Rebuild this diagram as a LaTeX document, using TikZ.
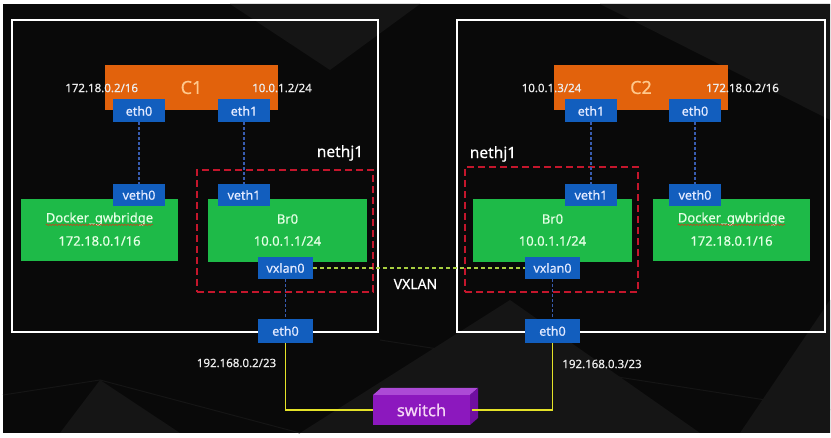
\documentclass[tikz,border=0pt]{standalone}
\usepackage{fontspec}
\setmainfont{Noto Sans}[FakeBold=0.5]
\usetikzlibrary{decorations.pathmorphing}

\definecolor{bgdark}{RGB}{9,9,9}
\definecolor{bgtri}{RGB}{21,21,21}
\definecolor{corange}{RGB}{226,98,12}
\definecolor{ifblue}{RGB}{18,94,190}
\definecolor{brgreen}{RGB}{30,186,72}
\definecolor{netred}{RGB}{196,22,44}
\definecolor{vethline}{RGB}{56,92,176}
\definecolor{tunline}{RGB}{168,206,64}
\definecolor{wire}{RGB}{228,226,40}
\definecolor{swfront}{RGB}{140,24,190}
\definecolor{swtop}{RGB}{172,74,214}
\definecolor{swside}{RGB}{112,14,160}

\begin{document}
\begin{tikzpicture}[x=1pt,y=-1pt,
    every node/.style={inner sep=0pt,outer sep=0pt},
    hostbox/.style={draw=white,line width=1.8pt},
    netbox/.style={draw=netred,line width=1.8pt,dash pattern=on 7pt off 4pt},
    contbox/.style={fill=corange,text={rgb,255:red,255;green,200;blue,140},
      font=\fontsize{18}{20}\selectfont},
    ifbox/.style={fill=ifblue,text={rgb,255:red,225;green,233;blue,255},
      font=\fontsize{12.5}{14}\selectfont\bfseries},
    brbox/.style={fill=brgreen},
    brtext/.style={text={rgb,255:red,228;green,255;blue,228},font=\fontsize{13}{15}\selectfont\bfseries},
    iplabel/.style={text={rgb,255:red,236;green,236;blue,236},font=\fontsize{11.5}{13}\selectfont\bfseries},
    bigtext/.style={text=white,font=\fontsize{15.5}{17}\selectfont\bfseries},
    spell/.style={draw={rgb,255:red,196;green,70;blue,30},line width=0.6pt,
      decorate,decoration={snake,amplitude=0.7pt,segment length=3pt}}]

    % background
    \fill[white] (0,0) rectangle (831,438);
    \fill[bgdark] (3,4) rectangle (830,433);
    \fill[bgtri] (300,433) -- (510,300) -- (700,433) -- cycle;
    \fill[bgtri] (740,433) -- (830,300) -- (830,433) -- cycle;
    \fill[bgtri] (60,433) -- (100,380) -- (180,433) -- cycle;
    \fill[bgtri] (230,4) -- (420,4) -- (330,70) -- cycle;
    \fill[bgtri] (600,4) -- (830,4) -- (830,120) -- cycle;
    \draw[bgtri,line width=1pt] (3,395) -- (100,380) -- (300,433);
    \draw[bgtri,line width=1pt] (380,340) -- (830,410);

    % hosts
    \node[hostbox,minimum width=366pt,minimum height=312pt] (hostA) at (195,176) {};
    \node[hostbox,minimum width=368pt,minimum height=312pt] (hostB) at (641,176) {};

    % overlay network nethj1
    \node[netbox,minimum width=176pt,minimum height=122pt] (netA) at (285,231) {};
    \node[netbox,minimum width=173pt,minimum height=125pt] (netB) at (551.5,229.5) {};
    \node[bigtext] (netAname) at (340,153) {nethj1};
    \node[bigtext] (netBname) at (493,154) {nethj1};

    % bridges
    \node[brbox,minimum width=157pt,minimum height=62pt] (gwA) at (99.5,230) {};
    \node[brbox,minimum width=159pt,minimum height=63pt] (brA) at (287.5,230.5) {};
    \node[brbox,minimum width=159pt,minimum height=63pt] (brB) at (552.5,230.5) {};
    \node[brbox,minimum width=157pt,minimum height=62pt] (gwB) at (731.5,230) {};

    \node[brtext] (gwAname) at (99.5,219) {Docker\_gwbridge};
    \node[brtext] (gwAip) at (99.5,241) {172.18.0.1/16};
    \node[brtext] (brAname) at (287.5,219) {Br0};
    \node[brtext] (brAip) at (287.5,241) {10.0.1.1/24};
    \node[brtext] (brBname) at (552.5,219) {Br0};
    \node[brtext] (brBip) at (552.5,241) {10.0.1.1/24};
    \node[brtext] (gwBname) at (731.5,219) {Docker\_gwbridge};
    \node[brtext] (gwBip) at (731.5,241) {172.18.0.1/16};
    \draw[spell] ([yshift=-2.5pt]gwAname.base west) -- ([yshift=-2.5pt]gwAname.base east);
    \draw[spell] ([yshift=-2.5pt]gwBname.base west) -- ([yshift=-2.5pt]gwBname.base east);

    % containers
    \node[contbox,minimum width=173pt,minimum height=45pt] (C1) at (191.5,87.5) {C1};
    \node[contbox,minimum width=174pt,minimum height=45pt] (C2) at (641,87.5) {C2};
    \node[iplabel,anchor=east] (c1ip0) at (138,88) {172.18.0.2/16};
    \node[iplabel] (c1ip1) at (282,88) {10.0.1.2/24};
    \node[iplabel] (c2ip1) at (551.5,88) {10.0.1.3/24};
    \node[iplabel] (c2ip0) at (742.5,88) {172.18.0.2/16};

    % interfaces
    \node[ifbox,minimum width=52pt,minimum height=23pt] (c1eth0) at (139,111) {eth0};
    \node[ifbox,minimum width=52pt,minimum height=23pt] (c1eth1) at (244,111) {eth1};
    \node[ifbox,minimum width=52pt,minimum height=22pt] (vethA0) at (139,195) {veth0};
    \node[ifbox,minimum width=52pt,minimum height=22pt] (vethA1) at (244,195) {veth1};
    \node[ifbox,minimum width=52pt,minimum height=23pt] (c2eth1) at (591,111) {eth1};
    \node[ifbox,minimum width=52pt,minimum height=23pt] (c2eth0) at (695,111) {eth0};
    \node[ifbox,minimum width=52pt,minimum height=22pt] (vethB1) at (591,195) {veth1};
    \node[ifbox,minimum width=52pt,minimum height=22pt] (vethB0) at (695,195) {veth0};
    \node[ifbox,minimum width=55pt,minimum height=22pt] (vxA) at (285.5,268) {vxlan0};
    \node[ifbox,minimum width=55pt,minimum height=22pt] (vxB) at (552.5,268) {vxlan0};
    \node[ifbox,minimum width=55pt,minimum height=24pt] (ethA) at (285.5,331) {eth0};
    \node[ifbox,minimum width=55pt,minimum height=24pt] (ethB) at (552.5,331) {eth0};

    \node[bigtext,font=\fontsize{14}{16}\selectfont\bfseries] (vxlan) at (415.5,284) {VXLAN};
    \node[iplabel] (ipA) at (236.5,363) {192.168.0.2/23};
    \node[iplabel] (ipB) at (602,364) {192.168.0.3/23};

    % switch
    \node[fill=swfront,minimum width=97pt,minimum height=30pt,
      text={rgb,255:red,246;green,214;blue,246},font=\fontsize{16.5}{18}\selectfont\bfseries] (sw) at (421.5,410) {switch};
    \fill[swtop] (sw.north west) -- ++(8,-7) -- ++(97,0) -- (sw.north east) -- cycle;
    \fill[swside] (sw.north east) -- ++(8,-7) -- ++(0,30) -- (sw.south east) -- cycle;

    % links
    \path[-] (c1eth0) edge[draw=vethline,line width=1.3pt,dash pattern=on 3pt off 2pt] (vethA0);
    \path[-] (c1eth1) edge[draw=vethline,line width=1.3pt,dash pattern=on 3pt off 2pt] (vethA1);
    \path[-] (c2eth1) edge[draw=vethline,line width=1.3pt,dash pattern=on 3pt off 2pt] (vethB1);
    \path[-] (c2eth0) edge[draw=vethline,line width=1.3pt,dash pattern=on 3pt off 2pt] (vethB0);
    \path[-] (vxA) edge[draw=vethline,line width=1.3pt,dash pattern=on 3pt off 2pt] (ethA);
    \path[-] (vxB) edge[draw=vethline,line width=1.3pt,dash pattern=on 3pt off 2pt] (ethB);
    \path[-] (vxA) edge[draw=tunline,line width=1.5pt,dash pattern=on 4pt off 3pt] (vxB);
    \draw[wire,line width=1.8pt] (ethA.south) |- (sw.west);
    \draw[wire,line width=1.8pt] (ethB.south) |- ([xshift=2pt]sw.east);
  \end{tikzpicture}
\end{document}
